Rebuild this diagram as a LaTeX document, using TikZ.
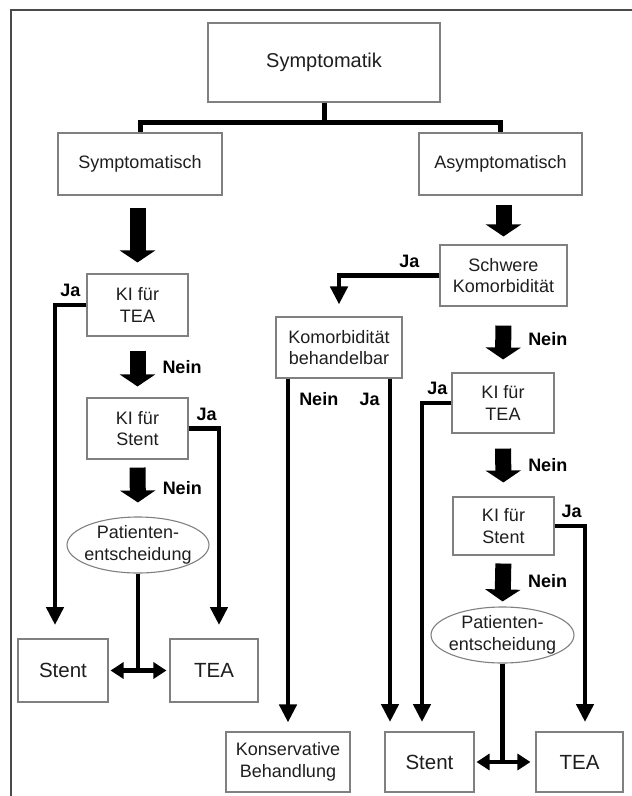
\documentclass[tikz,border=0pt]{standalone}
\usepackage{fontspec}
\setmainfont{Liberation Sans}
\usetikzlibrary{arrows.meta, shapes.geometric, positioning, calc}

\definecolor{boxgray}{HTML}{808080}
\definecolor{textgray}{HTML}{1E1E1E}
\definecolor{framegray}{HTML}{4A4A4A}

\tikzset{
  box/.style={draw=boxgray, line width=1.1pt, rectangle, inner sep=0pt, align=center, text=textgray, font=\fontsize{18}{21.5}\selectfont},
  endbox/.style={box, font=\fontsize{20.5}{24}\selectfont},
  ellbox/.style={box, ellipse, inner xsep=-6pt},
  lbl/.style={inner sep=0pt, font=\fontsize{18}{21.5}\selectfont\bfseries, text=black},
  bigarrow/.style={line width=16pt, -{Triangle[width=35pt,length=12pt]}},
  conn/.style={line width=4.5pt, line join=miter, -{Triangle[width=17pt,length=18pt]}},
  dblarrow/.style={line width=4.5pt, {Triangle[width=16pt,length=13pt]}-{Triangle[width=16pt,length=13pt]}},
  bar/.style={line width=5pt, line join=miter},
}

\begin{document}
\begin{tikzpicture}[x=1pt, y=-1pt]
    \useasboundingbox (0,0) rectangle (632,796);

    % Frame
    \draw[framegray, line width=1.6pt] (11,796) -- (11,10) -- (632,10);

    % Draw the top boxes
    \node[box, minimum width=232pt, minimum height=79pt, font=\fontsize{20}{24}\selectfont] (symp) at (324,62.5) {Symptomatik};
    \node[box, minimum width=164pt, minimum height=62pt] (symt) at (140,164) {Symptomatisch};
    \node[box, minimum width=163pt, minimum height=62pt] (asym) at (500.5,164) {Asymptomatisch};

    \draw[bar] (symp.south) -- ++(0,20) -| (symt.north);
    \draw[bar] (symp.south) -- ++(0,20) -| (asym.north);

    % Left column
    \node[box, minimum width=101pt, minimum height=62pt] (kiteaL) at (137.5,305) {KI für\\TEA};
    \node[box, minimum width=101pt, minimum height=61pt] (kistL) at (137.5,428.5) {KI für\\Stent};
    \node[ellbox, minimum width=142pt, minimum height=56pt] (entL) at (138,545) {Patienten-\\entscheidung};
    \node[endbox, minimum width=90pt, minimum height=63pt] (stentL) at (63,670.5) {Stent};
    \node[endbox, minimum width=88pt, minimum height=63pt] (teaL) at (214,670.5) {TEA};

    \draw[bigarrow, shorten <=12pt, shorten >=11pt] (kiteaL.north |- symt.south) -- (kiteaL.north);
    \draw[bigarrow, shorten <=14pt, shorten >=11pt] (kiteaL.south) -- node[lbl, right=17pt] {Nein} (kistL.north);
    \draw[bigarrow, shorten <=8pt, shorten >=14pt] (kistL.south) -- node[lbl, right=17pt] {Nein} (entL.north);

    \coordinate (jaStentL) at (55,625);
    \coordinate (jaTeaL) at (219,625);
    \draw[conn] (kiteaL.west) -| node[lbl, pos=.5, above right=6pt and 3pt] {Ja} (jaStentL);
    \draw[conn] (kistL.east) -| node[lbl, pos=.5, above left=6pt and 0pt] {Ja} (jaTeaL);

    \draw[dblarrow, shorten <=2pt, shorten >=3pt] (stentL.east) -- (teaL.west);
    \draw[line width=4.5pt] (entL.south) -- (entL.south |- stentL.east);

    % Right part
    \node[box, minimum width=127pt, minimum height=61pt] (schwere) at (503.5,275.5) {Schwere\\Komorbidität};
    \node[box, minimum width=126pt, minimum height=61pt] (komorb) at (339,347.5) {Komorbidität\\behandelbar};
    \node[box, minimum width=102pt, minimum height=60pt] (kiteaR) at (503,403) {KI für\\TEA};
    \node[box, minimum width=101pt, minimum height=58pt] (kistR) at (503.5,526) {KI für\\Stent};
    \node[ellbox, minimum width=143pt, minimum height=56pt] (entR) at (502.5,635) {Patienten-\\entscheidung};
    \node[box, minimum width=124pt, minimum height=60pt] (konserv) at (288,762) {Konservative\\Behandlung};
    \node[endbox, minimum width=89pt, minimum height=60pt] (stentR) at (429.5,762) {Stent};
    \node[endbox, minimum width=87pt, minimum height=60pt] (teaR) at (579.5,762) {TEA};

    \draw[bigarrow, shorten <=9pt, shorten >=8pt] (schwere.north |- asym.south) -- (schwere.north);
    \draw[bigarrow, shorten <=19pt, shorten >=13pt] (schwere.south) -- node[lbl, right=17pt] {Nein} (kiteaR.north);
    \draw[bigarrow, shorten <=15pt, shorten >=14pt] (kiteaR.south) -- node[lbl, right=17pt] {Nein} (kistR.north);
    \draw[bigarrow, shorten <=8pt, shorten >=5pt] (kistR.south) -- node[lbl, right=17pt] {Nein} (entR.north);

    \draw[conn, shorten >=12pt] (schwere.west) -| node[lbl, pos=.15, above=6pt] {Ja} (komorb.north);
    \draw[conn, shorten >=9pt] (konserv.north |- komorb.south) -- node[lbl, pos=0, below right=12pt and 9pt] {Nein} (konserv.north);

    \coordinate (jaStentR1) at (390,722);
    \coordinate (jaStentR2) at (422,722);
    \coordinate (jaTeaR) at (585,722);
    \draw[conn] (jaStentR1 |- komorb.south) -- node[lbl, pos=0, below left=12pt and 8pt] {Ja} (jaStentR1);
    \draw[conn] (kiteaR.west) -| node[lbl, pos=.5, above right=6pt and 3pt] {Ja} (jaStentR2);
    \draw[conn] (kistR.east) -| node[lbl, pos=.5, above left=6pt and 1pt] {Ja} (jaTeaR);

    \draw[dblarrow, shorten <=2pt, shorten >=5pt] (stentR.east) -- (teaR.west);
    \draw[line width=4.5pt] (entR.south) -- (entR.south |- stentR.east);
\end{tikzpicture}
\end{document}
